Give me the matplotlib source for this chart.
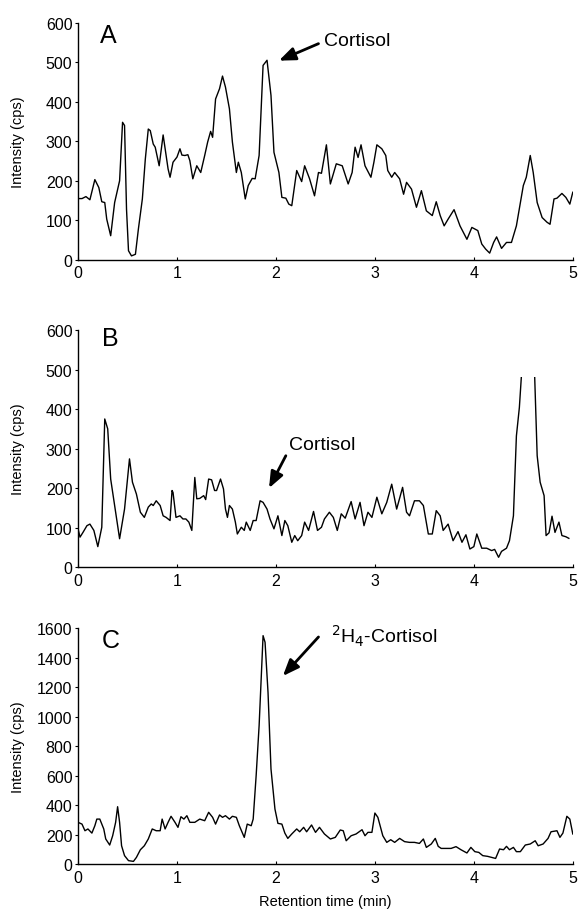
import matplotlib
matplotlib.use("Agg")
import matplotlib.pyplot as plt
from matplotlib.patches import Rectangle

plt.rcParams['font.family'] = ['Liberation Sans', 'DejaVu Sans']

# ---------------- data ----------------
a_time = [0.00, 0.04, 0.08, 0.12, 0.17, 0.21, 0.24, 0.27, 0.29, 0.33, 0.37, 0.42, 0.45, 0.47,
          0.49, 0.51, 0.54, 0.58, 0.61, 0.65, 0.68, 0.71, 0.73, 0.76, 0.78, 0.82, 0.86, 0.88,
          0.91, 0.93, 0.96, 1.00, 1.03, 1.05, 1.08, 1.11, 1.13, 1.16, 1.20, 1.24, 1.28, 1.31,
          1.34, 1.36, 1.39, 1.43, 1.46, 1.49, 1.53, 1.56, 1.60, 1.62, 1.65, 1.69, 1.72, 1.76,
          1.79, 1.83, 1.87, 1.91, 1.95, 1.98, 2.03, 2.06, 2.10, 2.13, 2.16, 2.21, 2.26, 2.29,
          2.34, 2.39, 2.43, 2.46, 2.51, 2.55, 2.61, 2.67, 2.73, 2.77, 2.80, 2.83, 2.86, 2.90,
          2.96, 2.99, 3.02, 3.07, 3.11, 3.13, 3.17, 3.20, 3.25, 3.29, 3.32, 3.37, 3.42, 3.47,
          3.52, 3.58, 3.62, 3.66, 3.70, 3.74, 3.80, 3.86, 3.93, 3.98, 4.04, 4.08, 4.12, 4.16,
          4.20, 4.23, 4.28, 4.33, 4.38, 4.43, 4.50, 4.53, 4.57, 4.60, 4.64, 4.69, 4.74, 4.77,
          4.81, 4.84, 4.89, 4.93, 4.97, 5.00]
a_int = [155, 155, 160, 152, 203, 183, 147, 145, 103, 61, 145, 200, 348, 340,
         128, 23, 10, 14, 78, 154, 255, 331, 327, 293, 285, 238, 316, 281,
         230, 209, 247, 260, 281, 265, 264, 266, 251, 205, 238, 221, 264, 298,
         325, 310, 407, 433, 465, 437, 382, 298, 221, 247, 221, 154, 188, 206,
         205, 264, 492, 505, 416, 272, 221, 158, 156, 141, 137, 226, 198, 238,
         205, 162, 221, 219, 291, 192, 243, 238, 192, 221, 285, 259, 291, 238,
         209, 247, 291, 281, 264, 226, 209, 221, 205, 166, 196, 179, 133, 175,
         124, 112, 147, 112, 86, 103, 127, 86, 52, 82, 74, 40, 27, 17,
         44, 58, 29, 44, 44, 86, 188, 209, 264, 221, 145, 107, 95, 90,
         154, 156, 168, 158, 141, 171]

b_time = [0.00, 0.02, 0.05, 0.09, 0.12, 0.16, 0.20, 0.24, 0.27, 0.30, 0.33, 0.37, 0.42, 0.47,
          0.51, 0.52, 0.55, 0.59, 0.63, 0.67, 0.71, 0.74, 0.76, 0.79, 0.83, 0.86, 0.89, 0.93,
          0.95, 0.96, 0.99, 1.03, 1.06, 1.09, 1.12, 1.15, 1.18, 1.20, 1.23, 1.27, 1.29, 1.32,
          1.35, 1.38, 1.40, 1.44, 1.47, 1.49, 1.51, 1.53, 1.56, 1.59, 1.61, 1.65, 1.68, 1.70,
          1.74, 1.77, 1.80, 1.84, 1.87, 1.91, 1.94, 1.98, 2.02, 2.06, 2.09, 2.12, 2.16, 2.19,
          2.22, 2.26, 2.29, 2.33, 2.38, 2.42, 2.46, 2.49, 2.54, 2.58, 2.62, 2.66, 2.70, 2.76,
          2.80, 2.85, 2.89, 2.93, 2.97, 3.02, 3.07, 3.12, 3.17, 3.22, 3.28, 3.32, 3.35, 3.40,
          3.45, 3.49, 3.54, 3.58, 3.62, 3.66, 3.69, 3.74, 3.79, 3.84, 3.88, 3.92, 3.96, 4.00,
          4.03, 4.08, 4.13, 4.18, 4.21, 4.25, 4.28, 4.33, 4.36, 4.40, 4.43, 4.46, 4.49, 4.55,
          4.61, 4.64, 4.67, 4.71, 4.73, 4.76, 4.79, 4.82, 4.86, 4.89, 4.93, 4.96]
b_int = [97, 76, 88, 105, 109, 93, 52, 101, 375, 350, 223, 156, 72, 147,
         248, 274, 215, 185, 139, 126, 152, 160, 156, 168, 156, 130, 126, 118,
         194, 189, 126, 130, 122, 122, 114, 93, 227, 173, 174, 181, 171, 223,
         221, 194, 194, 223, 198, 147, 126, 156, 147, 114, 84, 101, 93, 114,
         93, 118, 118, 168, 164, 147, 122, 97, 130, 80, 118, 105, 63, 80,
         67, 80, 114, 93, 141, 93, 101, 122, 139, 126, 93, 135, 124, 166,
         122, 164, 105, 139, 126, 177, 135, 164, 210, 147, 202, 139, 130, 168,
         168, 156, 84, 84, 143, 130, 93, 109, 67, 90, 63, 82, 46, 52,
         84, 48, 48, 42, 45, 25, 40, 48, 67, 130, 332, 404, 520, 650,
         520, 282, 215, 181, 80, 87, 129, 88, 114, 80, 77, 73]

c_time = [0.00, 0.04, 0.07, 0.10, 0.14, 0.17, 0.19, 0.22, 0.26, 0.28, 0.32, 0.35, 0.38, 0.40,
          0.42, 0.44, 0.47, 0.51, 0.56, 0.59, 0.63, 0.67, 0.71, 0.75, 0.79, 0.83, 0.85, 0.88,
          0.91, 0.94, 0.98, 1.01, 1.04, 1.07, 1.10, 1.13, 1.18, 1.23, 1.28, 1.32, 1.36, 1.39,
          1.43, 1.46, 1.49, 1.53, 1.56, 1.60, 1.63, 1.68, 1.71, 1.75, 1.77, 1.80, 1.83, 1.86,
          1.87, 1.89, 1.92, 1.95, 1.99, 2.02, 2.06, 2.09, 2.12, 2.16, 2.21, 2.24, 2.28, 2.31,
          2.36, 2.40, 2.44, 2.49, 2.55, 2.60, 2.65, 2.68, 2.71, 2.76, 2.81, 2.87, 2.90, 2.93,
          2.97, 3.00, 3.03, 3.08, 3.12, 3.16, 3.20, 3.25, 3.30, 3.35, 3.40, 3.45, 3.49, 3.52,
          3.57, 3.61, 3.64, 3.67, 3.72, 3.77, 3.82, 3.87, 3.93, 3.97, 4.01, 4.05, 4.09, 4.14,
          4.18, 4.22, 4.26, 4.30, 4.33, 4.36, 4.40, 4.43, 4.47, 4.52, 4.57, 4.62, 4.65, 4.70,
          4.75, 4.78, 4.84, 4.87, 4.90, 4.94, 4.97, 5.00]
c_int = [283, 271, 226, 238, 210, 260, 305, 305, 238, 170, 129, 192, 283, 389,
         283, 124, 57, 23, 18, 45, 97, 124, 170, 238, 226, 226, 305, 238,
         283, 324, 283, 249, 321, 305, 328, 283, 283, 305, 294, 351, 317, 271,
         333, 317, 328, 305, 324, 317, 260, 181, 271, 260, 305, 600, 939, 1391,
         1550, 1505, 1165, 645, 373, 276, 271, 210, 174, 204, 238, 219, 249, 219,
         265, 215, 249, 204, 170, 181, 231, 226, 158, 192, 204, 233, 192, 215,
         215, 346, 317, 192, 147, 165, 147, 174, 152, 147, 147, 140, 170, 113,
         136, 174, 120, 106, 106, 106, 118, 97, 75, 113, 84, 79, 57, 52,
         45, 38, 102, 97, 120, 97, 113, 84, 84, 129, 136, 158, 124, 136,
         174, 219, 226, 181, 210, 324, 305, 204]

panel_labels = ["A", "B", "C"]
y_limits = [600, 600, 1600]
y_ticks = [[0, 100, 200, 300, 400, 500, 600],
           [0, 100, 200, 300, 400, 500, 600],
           [0, 200, 400, 600, 800, 1000, 1200, 1400, 1600]]
x_ticks = [0, 1, 2, 3, 4, 5]
annot_texts = ["Cortisol", "Cortisol", r"$^{2}$H$_{4}$-Cortisol"]
annot_head = [(2.03, 504), (1.93, 200), (2.07, 1276)]
annot_tail = [(2.43, 547), (2.10, 282), (2.43, 1541)]
annot_textpos = [(2.49, 554), (2.13, 311), (2.56, 1555)]
label_pos = [(0.31, 570), (0.33, 579), (0.33, 1521)]

# ---------------- figure ----------------
fig = plt.figure(figsize=(5.78, 9.12), dpi=100)
rects = [[0.135, 0.714, 0.856, 0.260],
         [0.135, 0.377, 0.856, 0.260],
         [0.135, 0.0515, 0.856, 0.2585]]
series = [(a_time, a_int), (b_time, b_int), (c_time, c_int)]

for i in range(3):
    ax = fig.add_axes(rects[i])
    t, v = series[i]
    line, = ax.plot(t, v, color='black', lw=1.0)
    if i == 1:
        clip = Rectangle((0, 0), 5, 480, transform=ax.transData)
        line.set_clip_path(clip)
    ax.set_xlim(0, 5)
    ax.set_ylim(0, y_limits[i])
    ax.set_xticks(x_ticks)
    ax.set_yticks(y_ticks[i])
    for s in ['top', 'right']:
        ax.spines[s].set_visible(False)
    for s in ['left', 'bottom']:
        ax.spines[s].set_linewidth(1.0)
    ax.tick_params(axis='x', labelsize=11.5, length=2, width=0.8, pad=4,
                   direction='in')
    ax.tick_params(axis='y', labelsize=11.5, length=2, width=0.8, pad=2,
                   direction='out')
    ax.set_ylabel("Intensity (cps)", fontsize=10.5)
    ax.yaxis.set_label_coords(-0.107, 0.5)
    ax.text(label_pos[i][0], label_pos[i][1], panel_labels[i], fontsize=18,
            ha='center', va='center')
    ax.annotate("", xy=annot_head[i], xytext=annot_tail[i],
                arrowprops=dict(arrowstyle='-|>,head_length=0.7,head_width=0.28',
                                color='black', lw=2.0,
                                mutation_scale=14, shrinkA=0, shrinkB=0))
    ax.text(annot_textpos[i][0], annot_textpos[i][1], annot_texts[i],
            fontsize=14, ha='left', va='center')
    if i == 2:
        ax.set_xlabel("Retention time (min)", fontsize=10.5, labelpad=7)

fig.savefig("out.png", dpi=100)
